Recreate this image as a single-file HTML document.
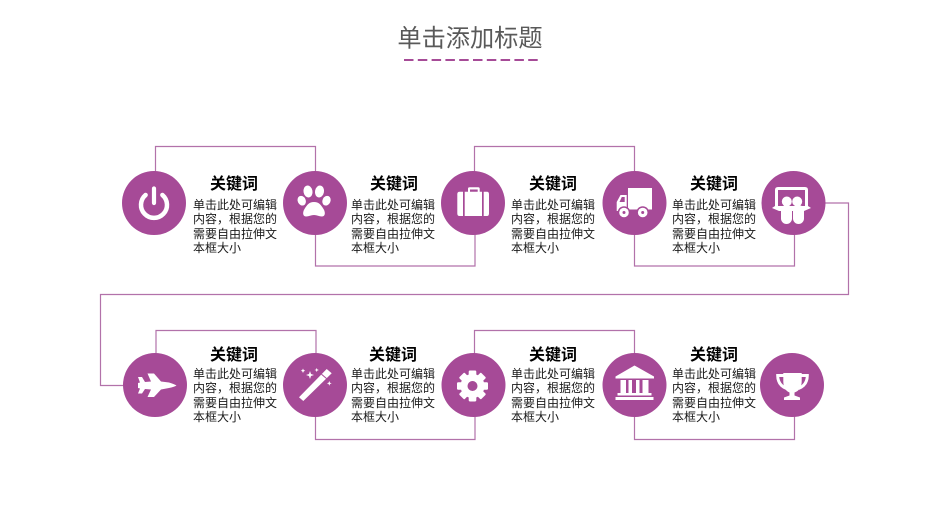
<!DOCTYPE html>
<html><head><meta charset="utf-8">
<style>
html,body{margin:0;padding:0;background:#fff;width:945px;height:529px;overflow:hidden}
svg{display:block}
text{font-family:"Liberation Sans","Noto Sans CJK SC",sans-serif}
.h{font-size:16px;font-weight:700;fill:#000;text-anchor:middle}
.b{font-size:12px;fill:#1a1a1a}
</style></head><body>
<svg width="945" height="529" viewBox="0 0 945 529" xmlns="http://www.w3.org/2000/svg">
<text x="470" y="46.500" font-size="24.200" fill="#595959" text-anchor="middle">单击添加标题</text>
<line x1="404" y1="60" x2="539" y2="60" stroke="#a64b97" stroke-width="2" stroke-dasharray="9.500 4.300"/>

<g fill="none" stroke="#b272aa" stroke-width="1.200">
<path d="M155.500 172V146.500H315.500V172"/>
<path d="M315.500 234V266H475V234"/>
<path d="M474.500 172V146.500H634.500V172"/>
<path d="M634.500 234V266H794.500V234"/>
<path d="M825 203H848.500V294.500H100.500V385.500H124"/>
<path d="M156 354V330.500H316V354"/>
<path d="M315.500 416V439.500H475V416"/>
<path d="M474.500 354V330.500H634.500V354"/>
<path d="M634.500 416V439.500H794.500V416"/>
</g>

<g fill="#a64a97">
<circle cx="154" cy="203" r="32"/><circle cx="315" cy="203" r="32"/><circle cx="473" cy="203" r="32"/><circle cx="634.500" cy="203" r="32"/><circle cx="793.500" cy="203" r="32"/>
<circle cx="155" cy="385" r="32"/><circle cx="315" cy="385" r="32"/><circle cx="473.500" cy="385" r="32"/><circle cx="634.500" cy="385" r="32"/><circle cx="792" cy="385" r="32"/>
</g>

<!-- power -->
<g fill="none" stroke="#fff">
<path d="M145.600 195A13 13 0 1 0 162.400 195" stroke-width="4.500" stroke-linecap="round"/>
<path d="M154 188.500V203" stroke-width="4.200" stroke-linecap="round"/>
</g>
<!-- paw -->
<g fill="#fff">
<ellipse cx="308" cy="191.500" rx="4.500" ry="6" transform="rotate(-10 308 191.500)"/>
<ellipse cx="319.500" cy="191.500" rx="4.500" ry="6" transform="rotate(10 319.500 191.500)"/>
<ellipse cx="301.700" cy="200.700" rx="4" ry="5" transform="rotate(-25 301.700 200.700)"/>
<ellipse cx="326.500" cy="200.700" rx="4" ry="5" transform="rotate(25 326.500 200.700)"/>
<path d="M314 202C319 202 321 205 323.500 209C325.500 212 325.500 216.500 322 216.500C319 216.500 317 215 314 215C311 215 309 216.500 306 216.500C302.500 216.500 302.500 212 304.500 209C307 205 309 202 314 202Z"/>
</g>
<!-- suitcase -->
<g fill="#fff">
<path d="M463 191.700V216H459.500Q457.300 216 457.300 213.500V194.200Q457.300 191.700 459.500 191.700Z"/>
<path d="M483.700 191.700V216H487Q489 216 489 213.500V194.200Q489 191.700 487 191.700Z"/>
<path fill-rule="evenodd" d="M464.700 191.700H468V188.800Q468 187.300 469.500 187.300H478.200Q479.700 187.300 479.700 188.800V191.700H482V216H464.700ZM470 191.700H477.700V189.500H470Z"/>
</g>
<!-- truck -->
<g fill="#fff">
<path d="M628 188H652V209.500H628Z"/>
<path fill-rule="evenodd" d="M626.700 195H620.500L616.700 202V211H626.700ZM624.700 197V202H619.500L621.800 197Z"/>
<circle cx="624" cy="212.500" r="6.300" fill="#a64a97"/>
<circle cx="642.700" cy="212.500" r="6.300" fill="#a64a97"/>
<circle cx="624" cy="212.500" r="4.800"/>
<circle cx="642.700" cy="212.500" r="4.800"/>
<circle cx="624" cy="212.500" r="1.500" fill="#a64a97"/>
<circle cx="642.700" cy="212.500" r="1.500" fill="#a64a97"/>
</g>
<!-- slideshare -->
<g fill="#fff">
<path fill-rule="evenodd" d="M778 187H805Q808 187 808 190V206L811 208L804 211H779L772 208L775 206V190Q775 187 778 187ZM778 190V206H805V190Z"/>
<rect x="781" y="205" width="11" height="19" rx="5.500"/>
<rect x="793" y="205" width="11" height="19" rx="5.500"/>
<circle cx="786.800" cy="201.500" r="5"/>
<circle cx="797.200" cy="201.500" r="5"/>
</g>

<!-- jet -->
<path fill="#fff" d="M138 377H142L145 382L151 381.500L147.500 373.500H154L161 381.500L169 382.500Q174 384 176.500 385.500Q174 387 169 388L161 389.500L154 397H147.500L151 389.500L145 389L142 393.500H138L140 388.500L138 388V383L140 382.500Z"/>
<!-- wand -->
<g fill="#fff">
<path d="M326.700 369L331.700 373.300L303.300 401L299 397.300Z"/>
<path d="M321.500 374.200L326.500 378.500" stroke="#a64a97" stroke-width="1" fill="none"/>
<path d="M310 371L311 374L314 375L311 376L310 379L309 376L306 375L309 374Z"/>
<path d="M316.700 368L317.400 369.500L319 370L317.400 370.500L316.700 372L316 370.500L314.400 370L316 369.500Z"/>
<path d="M303 368.500L303.700 370L305.200 370.700L303.700 371.400L303 373L302.300 371.400L300.800 370.700L302.300 370Z"/>
<path d="M329.300 381L330 382.700L331.700 383.300L330 384L329.300 385.700L328.600 384L326.900 383.300L328.600 382.700Z"/>
</g>
<!-- gear -->
<g fill="#fff">
<circle cx="472.500" cy="386" r="12"/>
<rect x="468.700" y="370.500" width="7.600" height="31" rx="1.200"/>
<rect x="468.700" y="370.500" width="7.600" height="31" rx="1.200" transform="rotate(45 472.500 386)"/>
<rect x="468.700" y="370.500" width="7.600" height="31" rx="1.200" transform="rotate(90 472.500 386)"/>
<rect x="468.700" y="370.500" width="7.600" height="31" rx="1.200" transform="rotate(135 472.500 386)"/>
<circle cx="472.500" cy="386" r="5" fill="#a64a97"/>
</g>
<!-- bank -->
<g fill="#fff">
<path d="M634.500 365.500L654 376.500V378.500H615.500V376.500Z"/>
<rect x="620.500" y="380" width="5.500" height="13.500"/><rect x="628.500" y="380" width="3.500" height="13.500"/><rect x="636" y="380" width="3.500" height="13.500"/><rect x="642.500" y="380" width="6" height="13.500"/>
<rect x="617.500" y="393" width="34" height="2.500"/>
<rect x="615.500" y="397" width="38" height="3"/>
</g>
<!-- trophy -->
<g>
<path d="M783.300 373H801.700V381Q801.700 390 794.500 392.500V395.500L800 397.500V400H784V397.500L789.500 395.500V392.500Q783.300 390 783.300 381Z" fill="#fff"/>
<path d="M784 375.500H777.700Q777.700 385 786.500 388.500M801 375.500H807.300Q807.300 385 798.500 388.500" fill="none" stroke="#fff" stroke-width="3"/>
</g>

<g class="labels">
<text class="h" x="234" y="189">关键词</text>
<text class="b" x="193" y="209">单击此处可编辑</text><text class="b" x="193" y="223">内容，根据您的</text><text class="b" x="193" y="238">需要自由拉伸文</text><text class="b" x="193" y="252">本框大小</text>
<text class="h" x="394" y="189">关键词</text>
<text class="b" x="351" y="209">单击此处可编辑</text><text class="b" x="351" y="223">内容，根据您的</text><text class="b" x="351" y="238">需要自由拉伸文</text><text class="b" x="351" y="252">本框大小</text>
<text class="h" x="553" y="189">关键词</text>
<text class="b" x="511" y="209">单击此处可编辑</text><text class="b" x="511" y="223">内容，根据您的</text><text class="b" x="511" y="238">需要自由拉伸文</text><text class="b" x="511" y="252">本框大小</text>
<text class="h" x="714" y="189">关键词</text>
<text class="b" x="672" y="209">单击此处可编辑</text><text class="b" x="672" y="223">内容，根据您的</text><text class="b" x="672" y="238">需要自由拉伸文</text><text class="b" x="672" y="252">本框大小</text>

<text class="h" x="234" y="360">关键词</text>
<text class="b" x="193" y="378">单击此处可编辑</text><text class="b" x="193" y="392">内容，根据您的</text><text class="b" x="193" y="407">需要自由拉伸文</text><text class="b" x="193" y="421">本框大小</text>
<text class="h" x="393" y="360">关键词</text>
<text class="b" x="351" y="378">单击此处可编辑</text><text class="b" x="351" y="392">内容，根据您的</text><text class="b" x="351" y="407">需要自由拉伸文</text><text class="b" x="351" y="421">本框大小</text>
<text class="h" x="553" y="360">关键词</text>
<text class="b" x="511" y="378">单击此处可编辑</text><text class="b" x="511" y="392">内容，根据您的</text><text class="b" x="511" y="407">需要自由拉伸文</text><text class="b" x="511" y="421">本框大小</text>
<text class="h" x="714" y="360">关键词</text>
<text class="b" x="672" y="378">单击此处可编辑</text><text class="b" x="672" y="392">内容，根据您的</text><text class="b" x="672" y="407">需要自由拉伸文</text><text class="b" x="672" y="421">本框大小</text>
</g>
</svg>
</body></html>
